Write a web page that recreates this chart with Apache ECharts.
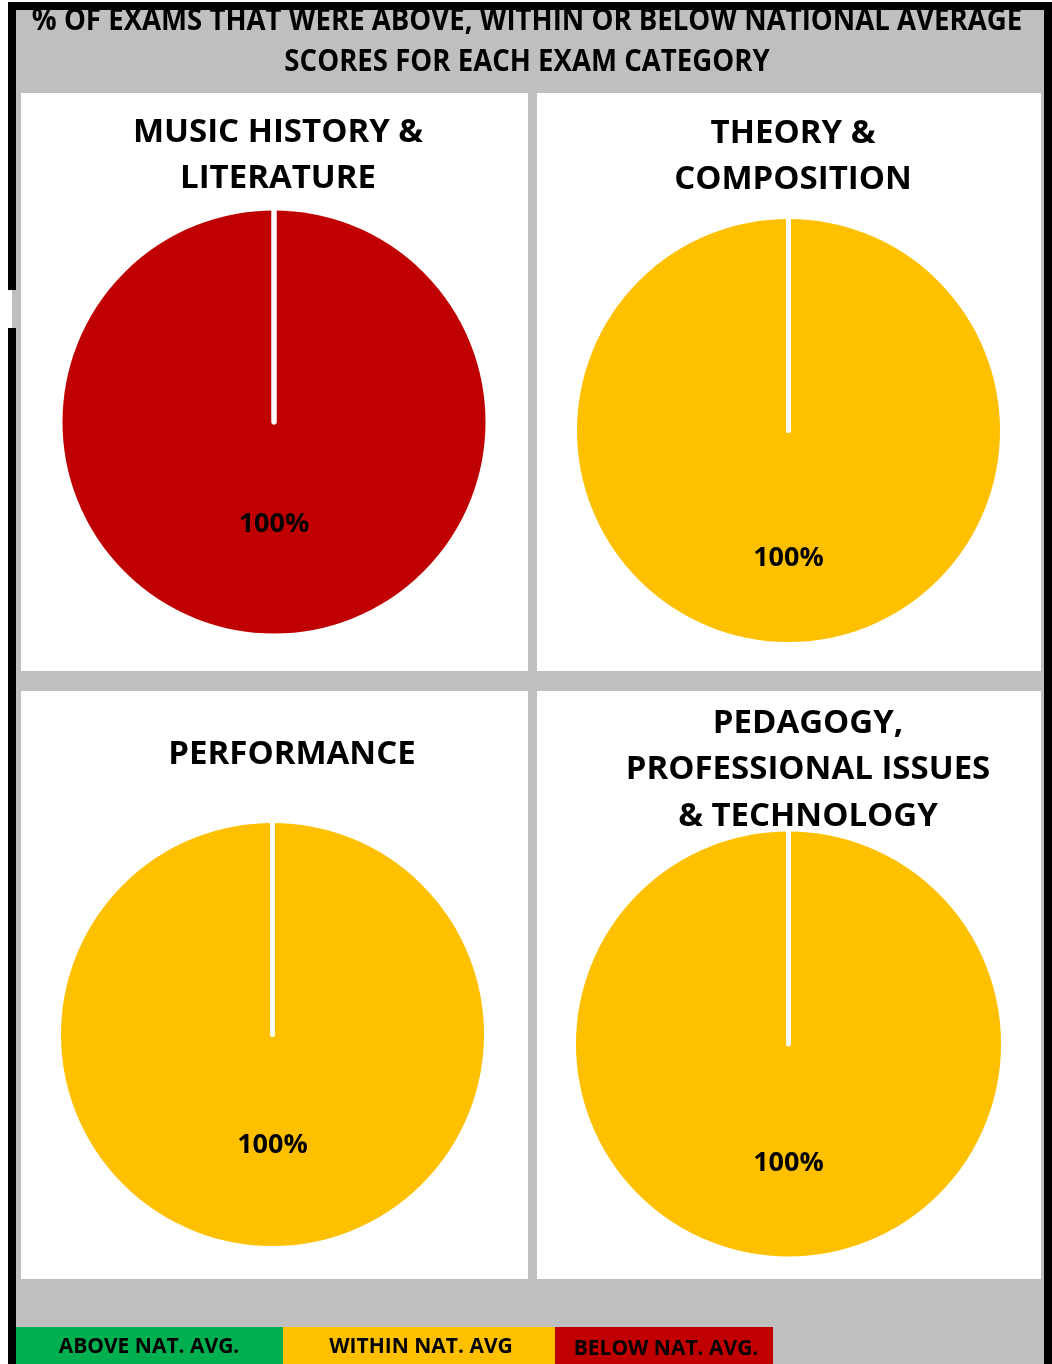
<!DOCTYPE html>
<html><head><meta charset="utf-8">
<script src="https://cdn.jsdelivr.net/npm/echarts@6/dist/echarts.min.js"></script>
<style>html,body{margin:0;padding:0;background:#fff}#c{width:1052px;height:1364px}</style>
</head><body><div id="c"></div>
<script>
// ---- data ----
const statusCategories = ['ABOVE NAT. AVG.', 'WITHIN NAT. AVG', 'BELOW NAT. AVG.'];
const statusColors = ['#00B050', '#FFC000', '#C00000'];
const examCategories = ['MUSIC HISTORY &\nLITERATURE', 'THEORY &\nCOMPOSITION', 'PERFORMANCE', 'PEDAGOGY,\nPROFESSIONAL ISSUES\n& TECHNOLOGY'];
const musicHistoryValues = [0, 0, 100];
const theoryValues = [0, 100, 0];
const performanceValues = [0, 100, 0];
const pedagogyValues = [0, 100, 0];
const titleLines = ['% OF EXAMS THAT WERE ABOVE, WITHIN OR BELOW NATIONAL AVERAGE', 'SCORES FOR EACH EXAM CATEGORY'];

// ---- layout ----
const GRAY = '#BFBFBF';
const FONT = 'Open Sans';
const panels = [
  {x: 21, y: 93, w: 507, h: 578, cx: 274, cy: 422, r: 214, tx: 278, ty: 155.5, ld: 99},
  {x: 537, y: 93, w: 504, h: 578, cx: 788.5, cy: 430.5, r: 214, tx: 793, ty: 156.5, ld: 125},
  {x: 21, y: 691, w: 507, h: 588, cx: 272.5, cy: 1034.5, r: 214, tx: 292, ty: 755, ld: 108},
  {x: 537, y: 691, w: 504, h: 588, cx: 788.5, cy: 1044, r: 215, tx: 808, ty: 770, ld: 116}
];
const legendBoxes = [
  {x: 16, w: 267, tx: 149, ty: 1347},
  {x: 283, w: 272, tx: 421, ty: 1347},
  {x: 555, w: 218, tx: 666, ty: 1349}
];

const graphics = [];
graphics.push({type: 'rect', shape: {x: 8, y: 2, width: 1044, height: 1362}, style: {fill: '#000'}});
graphics.push({type: 'rect', shape: {x: 16, y: 10, width: 1028, height: 1354}, style: {fill: GRAY}});
graphics.push({type: 'rect', shape: {x: 8, y: 290, width: 4, height: 38}, style: {fill: '#fff'}});
graphics.push({type: 'rect', shape: {x: 12, y: 290, width: 4, height: 38}, style: {fill: GRAY}});
const headerY = [21, 62];
titleLines.forEach((t, i) => {
  graphics.push({type: 'text', x: 527, y: headerY[i], scaleX: 0.92,
    style: {text: t, x: 0, y: 0, align: 'center', verticalAlign: 'middle', fill: '#000',
      font: 'bold 30px "' + FONT + '"'}});
});
graphics.push({type: 'rect', shape: {x: 8, y: 2, width: 1044, height: 8}, style: {fill: '#000'}});
panels.forEach((p, i) => {
  graphics.push({type: 'rect', shape: {x: p.x, y: p.y, width: p.w, height: p.h}, style: {fill: '#fff'}});
  graphics.push({type: 'text', x: p.tx, y: p.ty,
    style: {text: examCategories[i], x: 0, y: 0, align: 'center', verticalAlign: 'middle', fill: '#000',
      font: 'bold 33px "' + FONT + '"', lineHeight: 46.5}});
});
legendBoxes.forEach((b, i) => {
  graphics.push({type: 'rect', shape: {x: b.x, y: 1327, width: b.w, height: 37}, style: {fill: statusColors[i]}});
  graphics.push({type: 'text', x: b.tx, y: b.ty,
    style: {text: statusCategories[i], x: 0, y: 0, align: 'center', verticalAlign: 'middle', fill: '#000',
      font: 'bold 21px "' + FONT + '"'}});
});

const pieValues = [musicHistoryValues, theoryValues, performanceValues, pedagogyValues];
// draw order reversed (counter-clockwise) so zero-width separators paint over the full slice
const pieData = vals => statusCategories.map((name, k) => ({name, value: vals[k], itemStyle: {color: statusColors[k]}})).reverse();

const series = [];
pieValues.forEach((vals, i) => {
  series.push({
    type: 'pie', center: [panels[i].cx, panels[i].cy], radius: panels[i].r,
    startAngle: 90, clockwise: false, silent: true, avoidLabelOverlap: false,
    itemStyle: {borderColor: '#fff', borderWidth: 5},
    label: {show: false}, labelLine: {show: false}, emphasis: {disabled: true},
    data: pieData(vals)
  });
  // transparent companion pie that only carries the percentage labels
  series.push({
    type: 'pie', center: [panels[i].cx, panels[i].cy], radius: [0, panels[i].ld * 2],
    startAngle: 90, clockwise: false, silent: true, avoidLabelOverlap: false, z: 3,
    itemStyle: {color: 'rgba(0,0,0,0)', borderWidth: 0},
    label: {show: true, position: 'inside', color: '#000', fontFamily: FONT, fontWeight: 'bold', fontSize: 27,
      formatter: p => (p.value > 0 ? p.percent + '%' : '')},
    labelLine: {show: false}, emphasis: {disabled: true},
    data: pieData(vals).map(d => ({name: d.name, value: d.value}))
  });
});

const chart = echarts.init(document.getElementById('c'), null, {renderer: 'canvas'});
chart.setOption({animation: false, graphic: {elements: graphics}, series});
</script></body></html>
